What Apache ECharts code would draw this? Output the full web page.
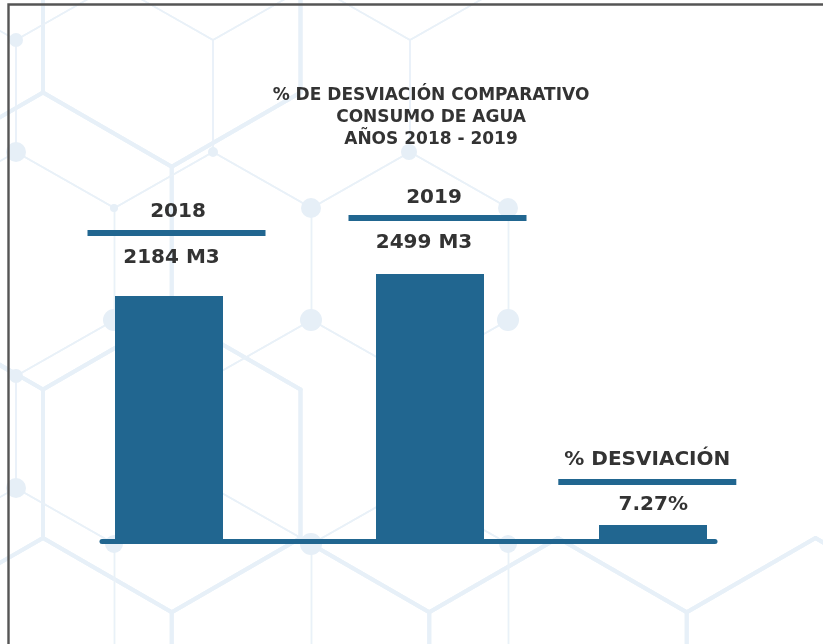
<!DOCTYPE html>
<html><head><meta charset="utf-8">
<script src="https://cdn.jsdelivr.net/npm/echarts@6/dist/echarts.min.js"></script>
<style>html,body{margin:0;padding:0;background:#fff}#c{width:823px;height:644px}</style>
</head><body><div id="c"></div>
<script>
// ---- data ----
const categories = ['2018', '2019', '% DESVIACIÓN'];
const consumoM3 = [2184, 2499];
const desviacionPct = [7.27];
const titleLines = ['% DE DESVIACIÓN COMPARATIVO', 'CONSUMO DE AGUA', 'AÑOS 2018 - 2019'];

// ---- style / layout ----
const BLUE = '#216690';
const TEXT = '#333333';
const FONT = 'DejaVu Sans';
const labelLayout = [
  {center: 169, yrLH: 37, valLH: 44, dist: 16, dx: 7.5, yrShift: 1.5, valShift: -5},
  {center: 430, yrLH: 35, valLH: 43, dist: 10, dx: 7.5, yrShift: -3.5, valShift: -13.5},
  {center: 653, yrLH: 39, valLH: 39, dist: 1, dx: -5.7, yrShift: 0, valShift: 6}
];
function pad(s) { return s >= 0 ? [0, 0, 0, 2 * s] : [0, -2 * s, 0, 0]; }

const values = [consumoM3[0], consumoM3[1], desviacionPct[0]];
const valueText = [consumoM3[0] + ' M3', consumoM3[1] + ' M3', desviacionPct[0] + '%'];
const AMOUNT_MIN = -1324, AMOUNT_MAX = 2499;

const grids = [], xAxes = [], yAxes = [], series = [];
labelLayout.forEach((L, i) => {
  grids.push({left: L.center - 65, width: 130, top: 274, bottom: 103});
  xAxes.push({gridIndex: i, type: 'category', data: [categories[i]], show: false});
  yAxes.push(i < 2
    ? {gridIndex: i, type: 'value', min: AMOUNT_MIN, max: AMOUNT_MAX, startValue: AMOUNT_MIN, show: false}
    : {gridIndex: i, type: 'value', min: 0, max: 121, show: false});
  series.push({
    type: 'bar', xAxisIndex: i, yAxisIndex: i, data: [values[i]], barWidth: 108,
    itemStyle: {color: BLUE}, silent: true,
    label: {
      show: true, position: 'top', distance: L.dist, offset: [L.dx, 0],
      formatter: () => '{yr|' + categories[i] + '}\n{line|}\n{val|' + valueText[i] + '}',
      rich: {
        yr: {fontFamily: FONT, fontWeight: 'bold', fontSize: 20, color: TEXT, lineHeight: L.yrLH, padding: pad(L.yrShift)},
        line: {width: 178, height: 6, lineHeight: 6, backgroundColor: BLUE},
        val: {fontFamily: FONT, fontWeight: 'bold', fontSize: 20, color: TEXT, lineHeight: L.valLH, padding: pad(L.valShift)}
      }
    }
  });
});
// baseline axis
grids.push({left: 102, right: 108, top: 500, bottom: 102.5});
xAxes.push({gridIndex: 3, type: 'category', data: [''], z: 5,
  axisLine: {show: true, lineStyle: {color: BLUE, width: 5, cap: 'round'}},
  axisTick: {show: false}, axisLabel: {show: false}});
yAxes.push({gridIndex: 3, type: 'value', show: false});

// ---- decorative hexagon background ----
const graphic = [];
function hexEdges(w, s, cx0, cy0, rows, cols, keep, stroke, lw) {
  for (let r = rows[0]; r <= rows[1]; r++) {
    const cy = cy0 + r * 1.5 * s;
    const off = (Math.abs(r) % 2 === 1) ? w / 2 : 0;
    for (let k = cols[0]; k <= cols[1]; k++) {
      const cx = cx0 + off + k * w;
      const v = [[cx, cy - s], [cx + w / 2, cy - s / 2], [cx + w / 2, cy + s / 2], [cx, cy + s], [cx - w / 2, cy + s / 2], [cx - w / 2, cy - s / 2]];
      for (let j = 0; j < 6; j++) {
        const a = v[j], b = v[(j + 1) % 6];
        const mx = (a[0] + b[0]) / 2, my = (a[1] + b[1]) / 2;
        if (!keep(mx, my)) continue;
        graphic.push({type: 'line', silent: true, z: -10,
          shape: {x1: a[0], y1: a[1], x2: b[0], y2: b[1]},
          style: {stroke: stroke, lineWidth: lw, lineCap: 'round'}});
      }
    }
  }
}
// thick lattice
hexEdges(257.5, 148.5, 43, 686.5, [-4, 1], [-1, 4], (mx, my) => mx <= 301 || my > 520, '#e7f0f8', 4);
// thin lattice
hexEdges(197, 112, 213, 264, [-2, 3], [-2, 2], (mx, my) => mx < 530, '#e9f1f8', 1.5);
const dots = [[16,152,10],[213,152,5],[409,152,8],[114,208,4],[311,208,10],[508,208,10],[114,320,11],[311,320,11],[508,320,11],[16,376,7],[16,488,10],[114,544,9],[311,544,11],[508,544,9],[114,656,10],[508,656,9],[16,40,7]];
dots.forEach(d => graphic.push({type: 'circle', silent: true, z: -9, shape: {cx: d[0], cy: d[1], r: d[2]}, style: {fill: '#e6eff7'}}));
// title
graphic.push({type: 'text', silent: true, z: 50, x: 431, y: 85,
  style: {text: titleLines.join('\n'), align: 'center', verticalAlign: 'top', lineHeight: 22,
    font: 'bold 17px "DejaVu Sans"', fill: TEXT}});
// frame
graphic.push({type: 'rect', silent: true, z: 100, shape: {x: 8.5, y: 4.5, width: 900, height: 700},
  style: {fill: 'none', stroke: '#555', lineWidth: 2.4}});

const chart = echarts.init(document.getElementById('c'), null, {renderer: 'canvas'});
chart.setOption({
  backgroundColor: '#fff', animation: false,
  grid: grids, xAxis: xAxes, yAxis: yAxes, series: series, graphic: graphic
});
</script></body></html>
